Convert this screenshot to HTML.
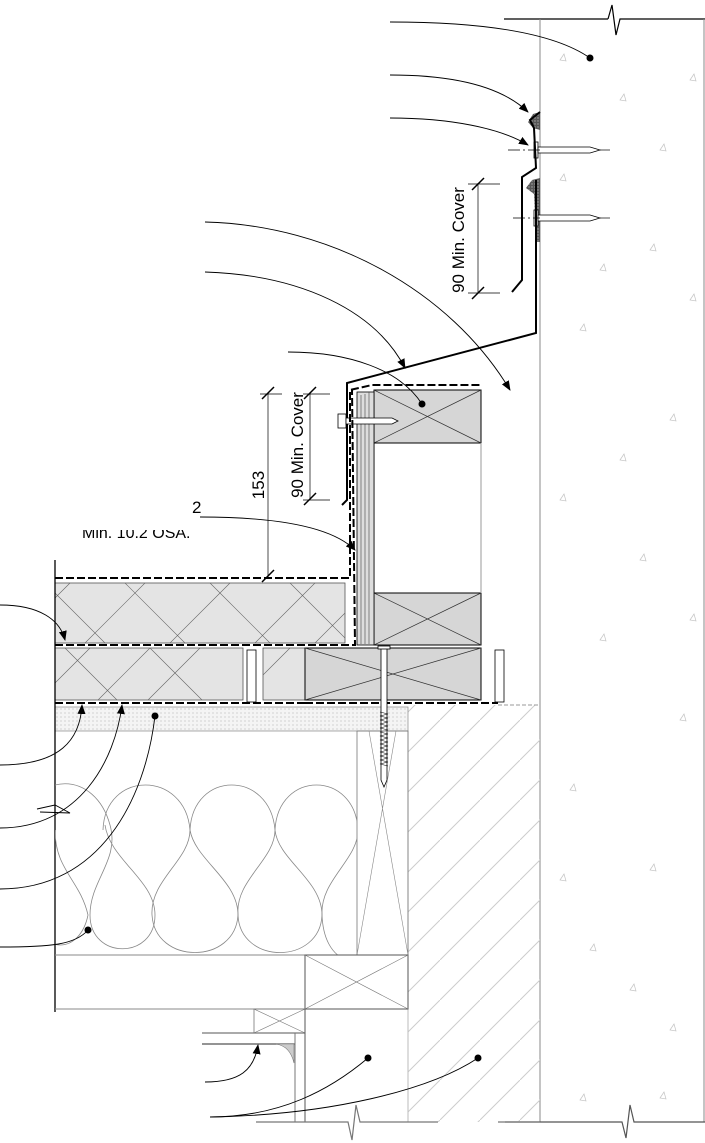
<!DOCTYPE html>
<html><head><meta charset="utf-8"><style>
html,body{margin:0;padding:0;background:#fff}
svg{display:block}
text{font-family:"Liberation Sans",sans-serif;fill:#000}
</style></head><body>
<svg width="705" height="1143" viewBox="0 0 705 1143" xmlns="http://www.w3.org/2000/svg">
<defs>
<marker id="ar" markerWidth="10" markerHeight="8" refX="9" refY="4" orient="auto" markerUnits="userSpaceOnUse"><path d="M0,0 L10,4 L0,8 z" fill="#000"/></marker>
<pattern id="dots" width="4" height="4" patternUnits="userSpaceOnUse"><rect width="4" height="4" fill="#f4f4f4"/><circle cx="1" cy="1" r="0.6" fill="#bbb"/></pattern>
<pattern id="seal" width="3" height="3" patternUnits="userSpaceOnUse"><rect width="3" height="3" fill="#555"/><circle cx="1" cy="1" r="0.7" fill="#aaa"/></pattern>
<pattern id="hatch" width="40" height="40" patternUnits="userSpaceOnUse"><path d="M0,40 L40,0" stroke="#ccc" stroke-width="1"/></pattern>
<clipPath id="insclip"><rect x="55" y="731" width="302" height="224"/></clipPath>
<clipPath id="txtclip"><rect x="70" y="530" width="140" height="14"/></clipPath>
</defs>

<line x1="504" y1="19" x2="608" y2="19" stroke="#000" stroke-width="1.2"/>
<path d="M608,19 L612,5 L616,35 L620,19 L705,19" fill="none" stroke="#000" stroke-width="1.2"/>
<line x1="540" y1="19" x2="540" y2="1122" stroke="#888" stroke-width="1"/>
<line x1="704" y1="19" x2="704" y2="1122" stroke="#888" stroke-width="1"/>
<path d="M505,1122 L622,1122 L626,1138 L630,1105 L634,1122 L705,1122" fill="none" stroke="#555" stroke-width="1.2"/>
<g fill="none" stroke="#c4c4c4" stroke-width="0.7">
<path d="M620,100 l4,-6 l2,7z"/><path d="M560,180 l4,-6 l2,7z"/><path d="M650,250 l4,-6 l2,7z"/><path d="M580,330 l4,-6 l2,7z"/><path d="M670,420 l4,-6 l2,7z"/><path d="M560,500 l4,-6 l2,7z"/><path d="M640,560 l4,-6 l2,7z"/><path d="M600,640 l4,-6 l2,7z"/><path d="M680,720 l4,-6 l2,7z"/><path d="M570,790 l4,-6 l2,7z"/><path d="M650,870 l4,-6 l2,7z"/><path d="M590,950 l4,-6 l2,7z"/><path d="M670,1030 l4,-6 l2,7z"/><path d="M580,1100 l4,-6 l2,7z"/><path d="M660,1098 l4,-6 l2,7z"/><path d="M690,300 l4,-6 l2,7z"/><path d="M600,270 l4,-6 l2,7z"/><path d="M660,150 l4,-6 l2,7z"/><path d="M560,60 l4,-6 l2,7z"/><path d="M690,80 l4,-6 l2,7z"/><path d="M620,460 l4,-6 l2,7z"/><path d="M690,620 l4,-6 l2,7z"/><path d="M560,880 l4,-6 l2,7z"/><path d="M630,990 l4,-6 l2,7z"/>
</g>

<rect x="408" y="705" width="132" height="417" fill="url(#hatch)"/>
<line x1="408" y1="731" x2="408" y2="1122" stroke="#bbb" stroke-width="1"/>

<path d="M540,112 L533,114 L528,122 L533,128 L540,130z" fill="url(#seal)"/>
<path d="M540,178 L532,180 L526,188 L534,194 L536,242 L540,242z" fill="url(#seal)"/>
<g stroke="#000" stroke-width="0.8" fill="#fff">
<rect x="534" y="142" width="4" height="16"/><path d="M538,147 L590,147 L600,150 L590,153 L538,153z"/>
<rect x="534" y="210" width="4" height="16"/><path d="M538,215 L590,215 L600,218 L590,221 L538,221z"/>
</g>
<g stroke="#000" stroke-width="0.7" stroke-dasharray="12,3,2,3"><line x1="508" y1="150" x2="540" y2="150"/><line x1="513" y1="218" x2="540" y2="218"/><line x1="600" y1="150" x2="610" y2="150"/><line x1="600" y1="218" x2="610" y2="218"/></g>
<polyline points="540,112 530,120 534,128 536,168 522,177 522,280 512,292" fill="none" stroke="#000" stroke-width="2"/>
<polyline points="536,180 536,333 347,383 347,500 342,505" fill="none" stroke="#000" stroke-width="2"/>

<g stroke="#000" stroke-width="0.7">
<line x1="478" y1="183" x2="478" y2="293"/><line x1="468" y1="184" x2="500" y2="184"/><line x1="468" y1="293" x2="500" y2="293"/>
<line x1="472" y1="190" x2="484" y2="178" stroke-width="1.5"/><line x1="472" y1="299" x2="484" y2="287" stroke-width="1.5"/>
<line x1="268" y1="393" x2="268" y2="577"/><line x1="260" y1="394" x2="282" y2="394"/>
<line x1="262" y1="399" x2="274" y2="387" stroke-width="1.5"/><line x1="262" y1="582" x2="274" y2="570" stroke-width="1.5"/>
<line x1="310" y1="393" x2="310" y2="500"/><line x1="303" y1="394" x2="330" y2="394"/><line x1="303" y1="500" x2="330" y2="500"/>
<line x1="304" y1="399" x2="316" y2="387" stroke-width="1.5"/><line x1="304" y1="505" x2="316" y2="493" stroke-width="1.5"/>
</g>
<text transform="translate(464,240) rotate(-90)" font-size="17" text-anchor="middle">90 Min. Cover</text>
<text transform="translate(264,485) rotate(-90)" font-size="17" text-anchor="middle">153</text>
<text transform="translate(303,445) rotate(-90)" font-size="17" text-anchor="middle">90 Min. Cover</text>
<text x="192" y="513" font-size="17">2</text>
<text x="82" y="538" font-size="16" clip-path="url(#txtclip)">Min. 10.2 OSA.</text>

<rect x="374" y="390" width="107" height="53" fill="#d6d6d6" stroke="#000" stroke-width="1"/>
<path d="M374,390 L481,443 M374,443 L481,390" stroke="#333" stroke-width="0.7"/>
<rect x="374" y="593" width="107" height="52" fill="#d6d6d6" stroke="#000" stroke-width="1"/>
<path d="M374,593 L481,645 M374,645 L481,593" stroke="#333" stroke-width="0.7"/>
<line x1="481" y1="443" x2="481" y2="593" stroke="#999"/>
<line x1="374" y1="443" x2="374" y2="593" stroke="#000"/>
<rect x="357" y="392" width="17" height="253" fill="#ddd" stroke="#000" stroke-width="0.8"/>
<g stroke="#444" stroke-width="0.6"><line x1="361" y1="395" x2="361" y2="644"/><line x1="365" y1="394" x2="365" y2="644"/><line x1="369" y1="392" x2="369" y2="644"/></g>
<g stroke="#000" stroke-width="0.8" fill="#fff"><rect x="338" y="414" width="8" height="14"/><path d="M346,418 L392,418 L398,421 L392,424 L346,424z"/></g>
<g fill="none" stroke="#000" stroke-width="2" stroke-dasharray="8,3">
<polyline points="55,578 350,578 350,390 372,385 481,385"/>
<polyline points="55,645 355,645 352,390"/>
<line x1="305" y1="703" x2="498" y2="703"/>
</g>
<rect x="55" y="583" width="290" height="60" fill="#e4e4e4" stroke="#555" stroke-width="0.8"/>
<g stroke="#666" stroke-width="0.6" fill="none">
<path d="M70,583 L55,598 M145,583 L85,643 M230,583 L170,643 M315,583 L255,643 M345,613 L315,643"/>
<path d="M125,583 L185,643 M210,583 L270,643 M290,583 L345,638 M55,593 L105,643"/>
</g>
<rect x="55" y="648" width="188" height="52" fill="#e4e4e4" stroke="#555" stroke-width="0.8"/>
<rect x="263" y="648" width="42" height="52" fill="#e4e4e4" stroke="#555" stroke-width="0.8"/>
<g stroke="#666" stroke-width="0.6"><path d="M65,648 L117,700 M150,648 L98,700 M200,648 L148,700 M150,648 L202,700 M90,648 L55,683 M290,648 L263,675"/></g>
<rect x="247" y="650" width="9" height="52" fill="#fff" stroke="#000" stroke-width="0.8"/>
<rect x="495" y="650" width="9" height="52" fill="#fff" stroke="#000" stroke-width="0.8"/>
<rect x="305" y="648" width="176" height="52" fill="#d6d6d6" stroke="#000" stroke-width="1"/>
<path d="M305,648 L481,700 M305,700 L481,648" stroke="#333" stroke-width="0.7"/>
<line x1="55" y1="703" x2="305" y2="703" stroke="#000" stroke-width="2" stroke-dasharray="8,3"/>
<line x1="498" y1="705" x2="540" y2="705" stroke="#999" stroke-dasharray="4,2"/>
<rect x="55" y="707" width="353" height="24" fill="url(#dots)" stroke="#888" stroke-width="0.7"/>
<path d="M381,648 L381,780 L384,787 L387,780 L387,648z" fill="#fff" stroke="#000" stroke-width="0.8"/>
<rect x="378" y="646" width="12" height="3" fill="#fff" stroke="#000" stroke-width="0.8"/>
<path d="M380,712 l8,2 l-8,2 l8,2 l-8,2 l8,2 l-8,2 l8,2 l-8,2 l8,2 l-8,2 l8,2 l-8,2 l8,2 l-8,2 l8,2 l-8,2 l8,2 l-8,2 l8,2 l-8,2 l8,2 l-8,2 l8,2 l-8,2 l8,2 l-8,2 l8,2" fill="none" stroke="#000" stroke-width="0.6"/>

<line x1="55" y1="560" x2="55" y2="1012" stroke="#000" stroke-width="1.3"/>
<rect x="357" y="731" width="51" height="224" fill="none" stroke="#777" stroke-width="0.8"/>
<path d="M369,731 L408,955 M396,731 L357,955" stroke="#888" stroke-width="0.6"/>
<g clip-path="url(#insclip)" fill="none" stroke="#888" stroke-width="0.8">
<path d="M20,825 C35,770 95,770 110,825 C120,860 90,880 90,915 C90,960 155,960 155,915 C155,880 110,860 105,825"/>
<path d="M103,830 C105,770 185,770 190,830 C190,860 150,880 152,915 C155,965 235,965 238,915 C238,880 195,860 190,830"/>
<path d="M190,830 C193,770 270,770 275,830 C275,860 235,880 238,915 C240,965 320,965 322,915 C322,880 278,860 275,830"/>
<path d="M275,830 C278,770 355,770 358,830 C358,860 320,880 322,915 C324,965 360,965 357,955"/>
<path d="M55,830 C55,870 80,880 88,915 C80,955 40,955 35,915"/>
</g>
<path d="M37,809 L55,805 L70,813 L40,812" fill="none" stroke="#000" stroke-width="0.9"/>
<line x1="55" y1="955" x2="408" y2="955" stroke="#888"/>
<line x1="55" y1="1009" x2="305" y2="1009" stroke="#888"/>
<rect x="305" y="955" width="103" height="54" fill="none" stroke="#555" stroke-width="1"/>
<path d="M305,955 L408,1009 M305,1009 L408,955" stroke="#777" stroke-width="0.6"/>
<rect x="254" y="1009" width="51" height="24" fill="none" stroke="#777" stroke-width="0.8"/>
<path d="M254,1009 L305,1033 M254,1033 L305,1009" stroke="#777" stroke-width="0.6"/>
<line x1="202" y1="1033" x2="305" y2="1033" stroke="#777" stroke-width="1.2"/>
<line x1="202" y1="1044" x2="295" y2="1044" stroke="#555" stroke-width="1.2"/>
<line x1="295" y1="1033" x2="295" y2="1122" stroke="#777"/>
<line x1="305" y1="1009" x2="305" y2="1122" stroke="#555"/>
<path d="M276,1044 Q290,1046 294,1063 L294,1044z" fill="#ccc" stroke="#777" stroke-width="0.6"/>
<path d="M256,1122 L348,1122 L352,1140 L356,1105 L360,1122 L438,1122" fill="none" stroke="#777" stroke-width="1.2"/>
<line x1="498" y1="1122" x2="540" y2="1122" stroke="#777" stroke-width="1.2"/>

<g fill="none" stroke="#000" stroke-width="0.9">
<path d="M390,22 C470,22 550,30 590,58"/>
<path d="M390,75 C450,75 500,85 528,112" marker-end="url(#ar)"/>
<path d="M390,118 C450,118 500,128 528,145" marker-end="url(#ar)"/>
<path d="M205,222 C330,225 450,290 510,390" marker-end="url(#ar)"/>
<path d="M205,272 C300,275 375,310 405,368" marker-end="url(#ar)"/>
<path d="M288,352 C350,352 400,370 422,404"/>
<path d="M200,517 C270,517 330,525 355,550" marker-end="url(#ar)"/>
<path d="M0,605 C40,605 60,620 65,640" marker-end="url(#ar)"/>
<path d="M0,765 C60,765 80,740 82,705" marker-end="url(#ar)"/>
<path d="M0,828 C80,828 115,760 122,705" marker-end="url(#ar)"/>
<path d="M0,889 C100,889 145,800 155,716"/>
<path d="M0,947 C50,947 75,945 88,930"/>
<path d="M205,1082 C240,1082 254,1070 258,1045" marker-end="url(#ar)"/>
<path d="M210,1117 C280,1117 330,1090 368,1058"/>
<path d="M210,1117 C330,1115 430,1090 478,1058"/>
</g>
<g fill="#000"><circle cx="590" cy="58" r="3.5"/><circle cx="422" cy="404" r="3.5"/><circle cx="155" cy="716" r="3.5"/><circle cx="88" cy="930" r="3.5"/><circle cx="368" cy="1058" r="3.5"/><circle cx="478" cy="1058" r="3.5"/></g>
</svg>
</body></html>
